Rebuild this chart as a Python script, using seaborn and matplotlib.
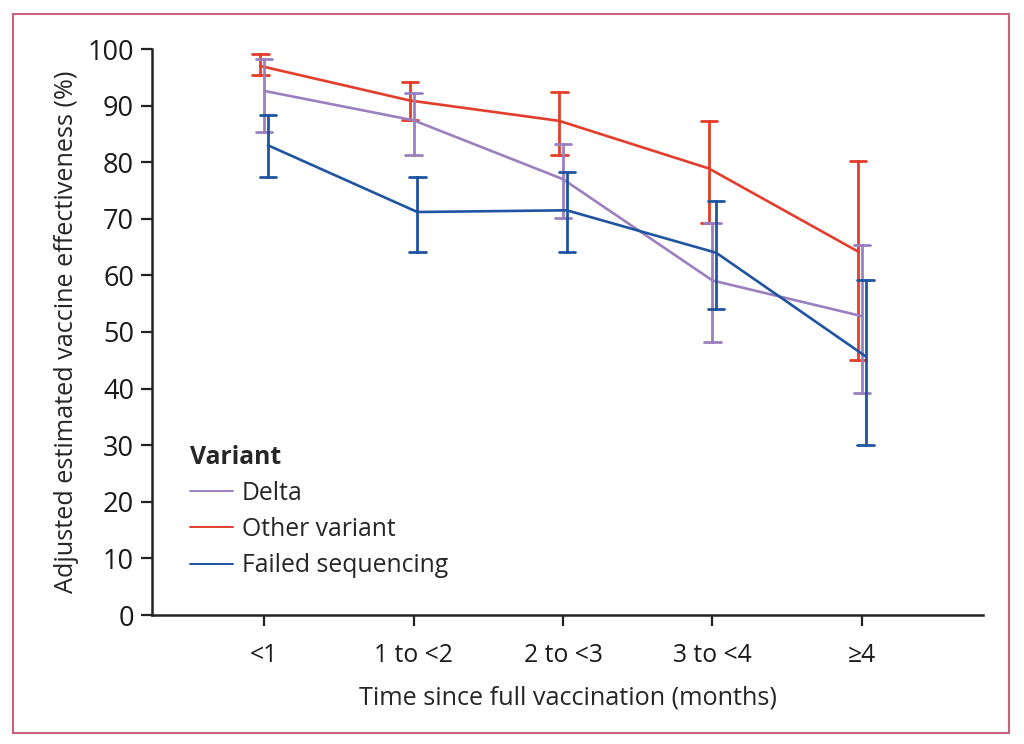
import numpy as np
import pandas as pd
import seaborn as sns
import matplotlib.pyplot as plt
from matplotlib.patches import Rectangle

categories = ["<1", "1 to <2", "2 to <3", "3 to <4", "≥4"]
variants = ["Delta", "Other variant", "Failed sequencing"]

delta_est = [92.6, 87.4, 77.0, 59.1, 52.8]
delta_lo = [85.3, 81.2, 70.2, 48.2, 39.2]
delta_hi = [98.3, 92.3, 83.3, 69.3, 65.3]

other_est = [97.0, 90.9, 87.3, 78.9, 64.2]
other_lo = [95.4, 87.4, 81.2, 69.3, 45.1]
other_hi = [99.2, 94.2, 92.4, 87.3, 80.2]

failed_est = [83.0, 71.2, 71.5, 64.0, 45.7]
failed_lo = [77.3, 64.2, 64.1, 54.1, 30.1]
failed_hi = [88.3, 77.3, 78.3, 73.2, 59.1]

colors = {"Delta": "#9b80c0", "Other variant": "#e43d2c", "Failed sequencing": "#1f54a0"}

series = {
    "Delta": (delta_est, delta_lo, delta_hi),
    "Other variant": (other_est, other_lo, other_hi),
    "Failed sequencing": (failed_est, failed_lo, failed_hi),
}
rows = []
for v, (est, lo, hi) in series.items():
    for c, e, l, h in zip(categories, est, lo, hi):
        for val in (l, e, h):
            rows.append({"Time": c, "Variant": v, "VE": val})
df = pd.DataFrame(rows)

sns.set_theme(style="ticks")
plt.rcParams["font.family"] = ["Open Sans", "DejaVu Sans"]
fs_lab = 18.2
fs_y = 19.5
fs_x = 17.8
fs_leg = 17.8

fig = plt.figure(figsize=(10.24, 7.44), dpi=100)
ax = fig.add_axes([152 / 1024, 1 - 615 / 744, (983 - 152) / 1024, (615 - 49) / 744])

dodge_order = ["Other variant", "Delta", "Failed sequencing"]
sns.pointplot(
    data=df, x="Time", y="VE", hue="Variant", order=categories,
    hue_order=dodge_order, palette=colors,
    estimator="median", errorbar=lambda x: (x.min(), x.max()),
    dodge=0.05, capsize=0.11, markers="", linewidth=1.9,
    err_kws={"linewidth": 2.0}, ax=ax,
)

ax.set_ylim(0, 100)
ax.set_xlim(-0.75, 4.81)
ax.set_yticks(np.arange(0, 101, 10))
ax.set_xlabel("Time since full vaccination (months)", fontsize=fs_lab, labelpad=13)
ax.set_ylabel("Adjusted estimated vaccine effectiveness (%)", fontsize=fs_lab, labelpad=6)
ax.tick_params(axis="both", width=1.6, length=8, color="#222222", labelcolor="#1a1a1a")
ax.tick_params(axis="y", labelsize=fs_y, pad=5)
ax.tick_params(axis="x", labelsize=fs_x, pad=12)
for s in ("top", "right"):
    ax.spines[s].set_visible(False)
for s in ("left", "bottom"):
    ax.spines[s].set_linewidth(1.8)
    ax.spines[s].set_color("#222222")

handles, labels = ax.get_legend_handles_labels()
hmap = dict(zip(labels, handles))
leg = ax.legend([hmap[v] for v in variants], variants, title="Variant",
                loc="upper left", bbox_to_anchor=(0.019, 0.34), frameon=False,
                fontsize=fs_leg, title_fontproperties={"weight": "bold", "size": fs_leg},
                alignment="left", handlelength=1.75, handletextpad=0.35, labelspacing=0.45)
for h in leg.get_lines():
    h.set_linewidth(1.4)

fig.patches.append(Rectangle((13 / 1024, 1 - 733 / 744), (1009 - 13) / 1024, (733 - 14) / 744,
                             transform=fig.transFigure, fill=False, edgecolor="#c9607c",
                             linewidth=1.5))

fig.savefig("out.png", dpi=100)
